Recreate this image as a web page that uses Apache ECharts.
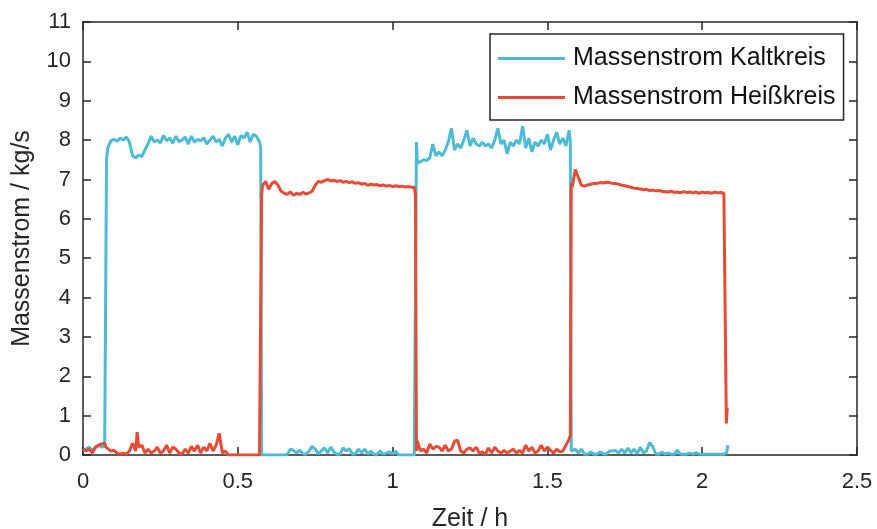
<!DOCTYPE html>
<html>
<head>
<meta charset="utf-8">
<script src="https://cdn.jsdelivr.net/npm/echarts@6/dist/echarts.min.js"></script>
<style>
html,body{margin:0;padding:0;background:#fff;}
#chart{width:877px;height:529px;}
</style>
</head>
<body>
<div id="chart"></div>
<script>
// Time in hours
const timeH = [
  0,0.01,0.02,0.03,0.04,0.05,0.06,0.07,
  0.074,0.076,
  0.08,0.09,0.10,0.11,0.12,0.13,0.14,0.15,0.16,0.17,
  0.175,
  0.18,0.19,0.20,0.21,0.22,0.23,0.24,0.25,0.26,0.27,
  0.28,0.29,0.30,0.31,0.32,0.33,0.34,0.35,0.36,0.37,
  0.38,0.39,0.40,0.41,0.42,0.43,0.44,0.45,0.46,0.47,
  0.48,0.49,0.50,0.51,0.52,0.53,0.54,0.55,0.56,0.57,
  0.574,0.577,
  0.58,0.59,0.60,0.61,0.62,0.63,0.64,0.65,0.66,0.67,
  0.68,0.69,0.70,0.71,0.72,0.73,0.74,0.75,0.76,0.77,
  0.78,0.79,0.80,0.81,0.82,0.83,0.84,0.85,0.86,0.87,
  0.88,0.89,0.90,0.91,0.92,0.93,0.94,0.95,0.96,0.97,
  0.98,0.99,1.00,1.01,1.02,1.03,1.04,1.05,1.06,1.07,
  1.074,1.077,
  1.08,1.09,1.10,1.11,1.12,1.13,1.14,1.15,1.16,1.17,
  1.18,1.19,1.20,1.21,1.22,1.23,1.24,1.25,1.26,1.27,
  1.28,1.29,1.30,1.31,1.32,1.33,1.34,1.35,1.36,1.37,
  1.38,1.39,1.40,1.41,1.42,1.43,1.44,1.45,1.46,1.47,
  1.48,1.49,1.50,1.51,1.52,1.53,1.54,1.55,1.56,1.57,
  1.574,1.577,
  1.58,1.59,1.60,1.61,1.62,1.63,1.64,1.65,1.66,1.67,
  1.68,1.69,1.70,1.71,1.72,1.73,1.74,1.75,1.76,1.77,
  1.78,1.79,1.80,1.81,1.82,1.83,1.84,1.85,1.86,1.87,
  1.88,1.89,1.90,1.91,1.92,1.93,1.94,1.95,1.96,1.97,
  1.98,1.99,2.00,2.01,2.02,2.03,2.04,2.05,2.06,2.07,
  2.075,2.078,2.081,2.083
];

// Massenstrom Kaltkreis (kg/s)
const kaltFlow = [
  0.1,0.15,0.2,0.12,0.18,0.25,0.2,0.22,
  0.2,7.5,
  7.8,7.98,8.02,7.97,8.05,8.0,8.08,7.95,7.6,7.55,
  7.58,
  7.62,7.58,7.75,7.9,8.1,7.95,8.0,7.93,8.12,7.98,
  8.05,7.92,8.1,7.96,8.0,8.08,7.9,8.1,7.95,8.02,
  7.98,8.06,7.9,8.0,8.1,7.95,8.02,7.85,8.05,8.15,
  7.95,8.1,7.88,8.12,8.05,8.2,7.95,8.15,8.1,7.95,
  7.8,0.0,
  0,0,0,0,0,0,0,0,0.02,0.15,
  0.12,0.05,0.12,0.03,0.02,0.1,0.22,0.15,0.03,0.1,
  0.18,0.05,0.2,0.08,0.02,0.02,0.18,0.1,0.16,0.02,
  0.03,0.15,0.05,0.15,0.02,0.1,0.02,0.02,0.1,0.02,
  0.05,0.08,0.03,0.1,0,0,0,0,0,0,
  0,7.95,
  7.42,7.45,7.5,7.48,7.55,7.9,7.6,7.7,7.6,7.75,
  7.95,8.3,7.75,7.9,7.8,8.0,8.25,7.85,8.05,7.9,
  7.85,7.95,7.85,7.9,7.8,8.0,8.3,7.9,8.0,7.65,
  7.95,7.85,8.0,7.9,8.35,7.8,8.05,7.7,7.95,7.85,
  8.0,7.9,8.15,7.75,8.0,8.2,7.9,8.05,7.85,8.25,
  8.0,0.1,
  0.05,0.15,0.05,0.15,0.02,0.02,0.08,0.02,0.02,0.08,
  0.03,0.02,0.1,0.1,0.12,0.05,0.15,0.05,0.18,0.05,
  0.15,0.03,0.2,0.05,0.1,0.32,0.22,0.03,0.02,0.08,
  0.02,0.05,0.02,0.02,0.12,0.02,0.02,0.02,0.05,0.02,
  0.06,0.02,0.02,0.02,0.02,0.02,0.02,0.02,0.02,0.02,
  0.02,0.05,0.15,0.25
];

// Massenstrom Heißkreis (kg/s)
const heissFlow = [
  0.15,0.1,0.15,0.05,0.2,0.25,0.28,0.3,
  0.2,0.15,
  0.15,0.1,0.12,0.05,0.02,0.05,0.02,0.1,0.3,0.1,
  0.58,
  0.2,0.25,0.05,0.15,0.05,0.1,0.2,0.05,0.1,0.25,
  0.05,0.2,0.15,0.05,0.02,0.15,0.05,0.22,0.1,0.25,
  0.05,0.2,0.1,0.3,0.1,0.25,0.55,0.05,0.1,0,
  0,0,0,0,0,0,0,0,0,0,
  0,6.6,
  6.85,6.95,6.75,6.9,6.95,6.85,6.7,6.65,6.62,6.68,
  6.6,6.65,6.62,6.67,6.63,6.66,6.7,6.85,6.95,6.93,
  6.97,7.0,6.96,6.98,6.95,6.97,6.93,6.95,6.92,6.94,
  6.9,6.92,6.88,6.9,6.85,6.88,6.86,6.87,6.84,6.86,
  6.83,6.85,6.82,6.84,6.82,6.83,6.81,6.82,6.8,6.8,
  6.6,0.1,
  0.35,0.1,0.15,0.05,0.28,0.15,0.22,0.2,0.1,0.25,
  0.1,0.15,0.35,0.38,0.1,0.05,0.15,0.18,0.1,0.2,
  0.05,0.08,0.02,0.18,0.05,0.2,0.1,0.05,0.12,0.05,
  0.1,0.15,0.05,0.12,0.05,0.25,0.1,0.2,0.05,0.1,
  0.25,0.1,0.2,0.12,0.05,0.15,0.08,0.1,0.25,0.4,
  0.5,6.9,
  6.8,7.25,7.05,6.85,6.83,6.86,6.88,6.9,6.9,6.92,
  6.91,6.93,6.92,6.9,6.9,6.88,6.85,6.84,6.82,6.8,
  6.78,6.77,6.76,6.74,6.75,6.72,6.73,6.71,6.72,6.7,
  6.69,6.68,6.7,6.67,6.68,6.66,6.69,6.67,6.68,6.66,
  6.68,6.65,6.68,6.66,6.67,6.65,6.68,6.66,6.67,6.65,
  6.65,0.8,1.2,null
];

const seriesNames = ['Massenstrom Kaltkreis', 'Massenstrom Heißkreis'];
const xTicks = [0, 0.5, 1, 1.5, 2, 2.5];
const yTicks = [0,1,2,3,4,5,6,7,8,9,10,11];

const pair = (vals) => timeH.map((t, i) => [t, vals[i]]);

const axisColor = '#262626';
const font = 'Liberation Sans, Arial, Helvetica, sans-serif';

const chart = echarts.init(document.getElementById('chart'), null, {renderer: 'canvas'});
const baseAxis = {
  axisLine: {show: true, onZero: false, lineStyle: {color: axisColor, width: 1.5}},
  axisTick: {show: true, inside: true, length: 8, lineStyle: {color: axisColor, width: 1.5}},
  splitLine: {show: false},
  axisLabel: {color: axisColor, fontSize: 22, fontFamily: font}
};
chart.setOption({
  animation: false,
  backgroundColor: '#fff',
  grid: {left: 83, top: 22, width: 774, height: 433, containLabel: false, outerBoundsMode: 'none'},
  legend: {
    orient: 'vertical',
    left: 490, top: 34,
    padding: [12, 8, 10, 8],
    itemGap: 14,
    itemWidth: 67, itemHeight: 3,
    icon: 'rect',
    borderColor: axisColor, borderWidth: 1.5,
    backgroundColor: '#fff',
    textStyle: {fontSize: 25, color: '#111', fontFamily: font, padding: [0, 0, 0, 3]},
    data: seriesNames
  },
  xAxis: [
    Object.assign({}, baseAxis, {
      type: 'value', position: 'bottom', min: xTicks[0], max: xTicks[xTicks.length-1], interval: 0.5,
      name: 'Zeit / h', nameLocation: 'middle', nameGap: 52,
      nameTextStyle: {fontSize: 25, color: axisColor, fontFamily: font},
      axisLabel: Object.assign({}, baseAxis.axisLabel, {margin: 16})
    }),
    Object.assign({}, baseAxis, {
      type: 'value', position: 'top', min: 0, max: 2.5, interval: 0.5,
      axisLabel: {show: false}
    })
  ],
  yAxis: [
    Object.assign({}, baseAxis, {
      type: 'value', position: 'left', min: yTicks[0], max: yTicks[yTicks.length-1], interval: 1,
      name: 'Massenstrom / kg/s', nameLocation: 'middle', nameGap: 48,
      nameTextStyle: {fontSize: 25, color: axisColor, fontFamily: font},
      axisLabel: Object.assign({}, baseAxis.axisLabel, {margin: 12})
    }),
    Object.assign({}, baseAxis, {
      type: 'value', position: 'right', min: 0, max: 11, interval: 1,
      axisLabel: {show: false}
    })
  ],
  series: [
    {
      name: seriesNames[0], type: 'line', xAxisIndex: 0, yAxisIndex: 0,
      data: pair(kaltFlow), showSymbol: false, symbol: 'none',
      lineStyle: {color: '#4DBBD5', width: 3}, itemStyle: {color: '#4DBBD5'},
      clip: true
    },
    {
      name: seriesNames[1], type: 'line', xAxisIndex: 0, yAxisIndex: 0,
      data: pair(heissFlow), showSymbol: false, symbol: 'none',
      lineStyle: {color: '#E64B35', width: 3}, itemStyle: {color: '#E64B35'},
      clip: true
    }
  ]
});
</script>
</body>
</html>
